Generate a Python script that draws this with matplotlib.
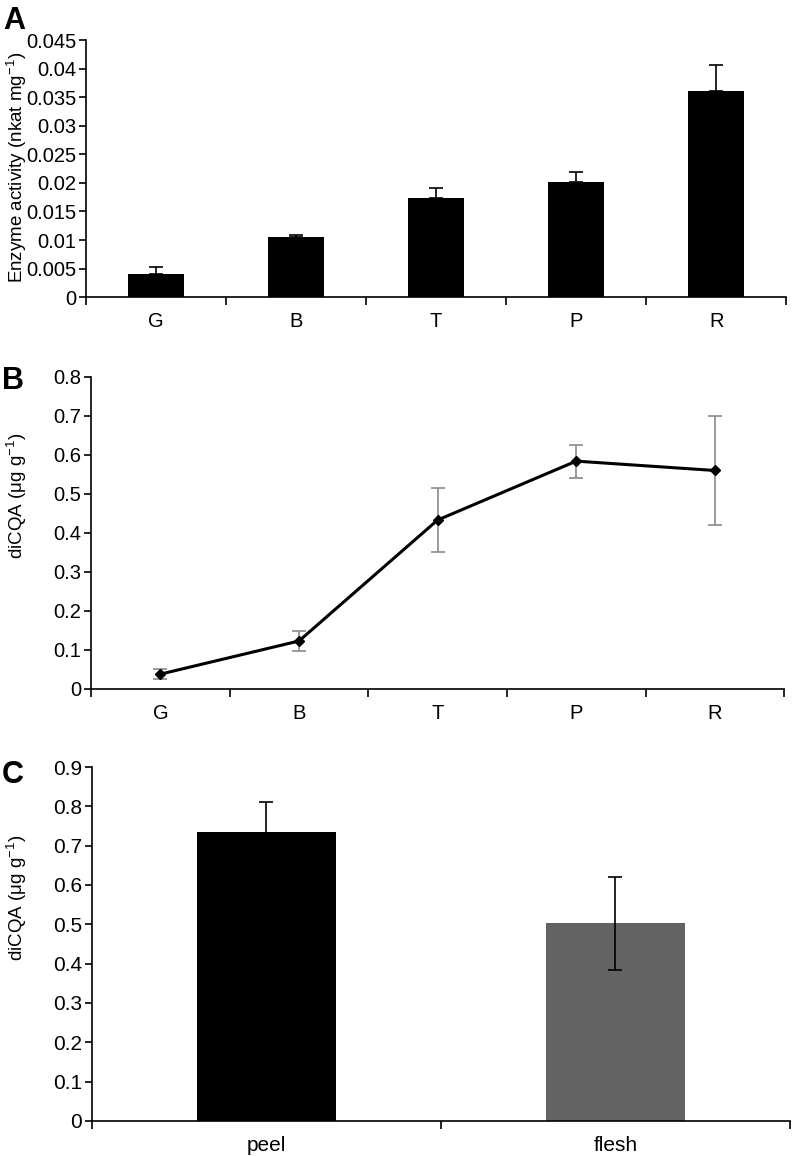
import matplotlib.pyplot as plt
import numpy as np

plt.rcParams['font.family'] = ['Liberation Sans', 'DejaVu Sans']

# A: enzyme activity per ripening stage
stages = ["G", "B", "T", "P", "R"]
enzyme = [0.0041, 0.0106, 0.0174, 0.0201, 0.0361]
enzyme_err = [0.0011, 0.0002, 0.0017, 0.0019, 0.0045]

# B: diCQA per stage
dicqa = [0.038, 0.123, 0.433, 0.584, 0.560]
dicqa_err = [0.012, 0.025, 0.083, 0.042, 0.140]

# C: diCQA peel vs flesh
tissues = ["peel", "flesh"]
tissue_val = [0.736, 0.503]
tissue_err = [0.076, 0.118]
tissue_col = ["#000000", "#636363"]


def style_axes(ax, n, fs=14.5):
    ax.spines['top'].set_visible(False)
    ax.spines['right'].set_visible(False)
    ax.spines['left'].set_linewidth(1.2)
    ax.spines['bottom'].set_linewidth(1.2)
    ax.set_xlim(-0.5, n - 0.5)
    ax.set_xticks(np.arange(n))
    ax.set_xticks(np.arange(n + 1) - 0.5, minor=True)
    ax.tick_params(axis='x', which='major', length=0, pad=11, labelsize=fs)
    ax.tick_params(axis='x', which='minor', length=6, width=1.2, direction='out')
    ax.tick_params(axis='y', length=5, width=1.2, direction='out', labelsize=fs, pad=2)


fig = plt.figure(figsize=(7.93, 11.56), dpi=100)

# panel A
axA = fig.add_axes([0.1085, 0.743, 0.883, 0.2222])
x = np.arange(len(stages))
axA.bar(x, enzyme, width=0.4, color="black")
axA.errorbar(x, enzyme, yerr=[np.zeros(len(enzyme)), enzyme_err], fmt='none',
             ecolor='black', elinewidth=1.2, capsize=5, capthick=1.2)
axA.set_ylim(0, 0.045)
axA.set_yticks(np.arange(0, 0.0451, 0.005))
axA.set_yticklabels(["0", "0.005", "0.01", "0.015", "0.02", "0.025",
                     "0.03", "0.035", "0.04", "0.045"])
style_axes(axA, len(stages))
axA.set_xticklabels(stages)
fig.text(0.021, 0.855, "Enzyme activity (nkat mg$^{\\mathregular{-1}}$)", rotation=90,
         ha='center', va='center', fontsize=13.5)
fig.text(0.004, 0.982, "A", fontsize=22, fontweight='bold', va='center')

# panel B
axB = fig.add_axes([0.1148, 0.404, 0.874, 0.270])
axB.errorbar(x, dicqa, yerr=dicqa_err, fmt='none', ecolor='#8a8a8a',
             elinewidth=1.2, capsize=5, capthick=1.2)
axB.plot(x, dicqa, color='black', lw=2.2, marker='D', markersize=5)
axB.set_ylim(0, 0.8)
axB.set_yticks(np.arange(0, 0.81, 0.1))
axB.set_yticklabels(["0", "0.1", "0.2", "0.3", "0.4", "0.5", "0.6", "0.7", "0.8"])
style_axes(axB, len(stages))
axB.set_xticklabels(stages)
fig.text(0.021, 0.571, "diCQA (μg g$^{\\mathregular{-1}}$)", rotation=90,
         ha='center', va='center', fontsize=13.5)
fig.text(0.002, 0.670, "B", fontsize=22, fontweight='bold', va='center')

# panel C
axC = fig.add_axes([0.116, 0.0303, 0.880, 0.3062])
xc = np.arange(len(tissues))
axC.bar(xc, tissue_val, width=0.4, color=tissue_col)
axC.errorbar(xc, tissue_val, yerr=tissue_err, fmt='none', ecolor='black',
             elinewidth=1.2, capsize=5, capthick=1.2)
axC.set_ylim(0, 0.9)
axC.set_yticks(np.arange(0, 0.91, 0.1))
axC.set_yticklabels(["0", "0.1", "0.2", "0.3", "0.4", "0.5", "0.6", "0.7", "0.8", "0.9"])
style_axes(axC, len(tissues), fs=15)
axC.set_xticklabels(tissues)
fig.text(0.021, 0.223, "diCQA (μg g$^{\\mathregular{-1}}$)", rotation=90,
         ha='center', va='center', fontsize=13.5)
fig.text(0.002, 0.330, "C", fontsize=22, fontweight='bold', va='center')

fig.savefig("out.png", dpi=100)
